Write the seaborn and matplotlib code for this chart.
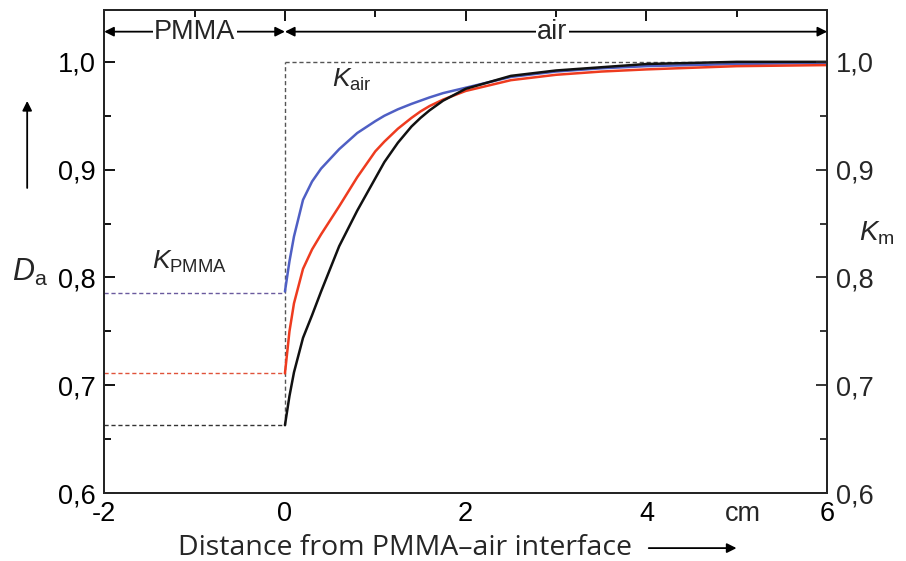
import numpy as np
import pandas as pd
import matplotlib
matplotlib.use("Agg")
import matplotlib.pyplot as plt
import seaborn as sns
from matplotlib.ticker import MultipleLocator

# distance from interface (cm) and the three D_a profiles
distance = [0.0, 0.05, 0.1, 0.2, 0.3, 0.4, 0.6, 0.8, 1.0, 1.1, 1.25, 1.4, 1.5,
            1.6, 1.75, 2.0, 2.5, 3.0, 3.5, 4.0, 5.0, 6.0]
d_blue = [0.787, 0.815, 0.838, 0.872, 0.889, 0.901, 0.919, 0.934, 0.945, 0.950,
          0.956, 0.961, 0.964, 0.967, 0.971, 0.976, 0.986, 0.991, 0.994, 0.996,
          0.998, 0.999]
d_red = [0.711, 0.750, 0.776, 0.808, 0.826, 0.840, 0.866, 0.893, 0.917, 0.926,
         0.938, 0.948, 0.954, 0.959, 0.965, 0.973, 0.983, 0.988, 0.991, 0.993,
         0.996, 0.997]
d_black = [0.663, 0.690, 0.712, 0.744, 0.765, 0.787, 0.829, 0.862, 0.892, 0.907,
           0.925, 0.940, 0.948, 0.955, 0.964, 0.975, 0.987, 0.992, 0.995, 0.998,
           1.000, 1.000]

# K values in PMMA (left of interface) and in air
k_pmma = [0.786, 0.711, 0.663]
k_air = 1.0
series_names = ["blue", "red", "black"]

x_ticks = [-2, 0, 2, 4, 6]
x_tick_labels = ["-2", "0", "2", "4", "6"]
y_ticks = [0.6, 0.7, 0.8, 0.9, 1.0]
y_tick_labels = ["0,6", "0,7", "0,8", "0,9", "1,0"]

sns.set_style("white")
plt.rcParams["font.family"] = ["Liberation Sans", "DejaVu Sans"]
plt.rcParams["mathtext.fontset"] = "custom"
plt.rcParams["mathtext.rm"] = "Liberation Sans"
plt.rcParams["mathtext.it"] = "Liberation Sans:italic"

df = pd.DataFrame({
    "distance": distance * 3,
    "D": d_blue + d_red + d_black,
    "series": [n for n in series_names for _ in distance],
})

line_colors = {"blue": "#4f5fc4", "red": "#ee3b1f", "black": "#111111"}
dash_colors = {"blue": "#6a5a9e", "red": "#e0523a", "black": "#333333"}

fig = plt.figure(figsize=(9.06, 5.61), dpi=100)
ax = fig.add_axes([0.115, 0.121, 0.798, 0.861])

# dashed reference levels
for name, k in zip(series_names, k_pmma):
    ax.plot([-2, 0], [k, k], ls=(0, (3, 2)), lw=1.0, color=dash_colors[name])
ax.plot([0, 0], [min(k_pmma), k_air], ls=(0, (3, 2)), lw=1.0, color="#555555")
ax.plot([0, 6], [k_air, k_air], ls=(0, (3, 2)), lw=1.0, color="#555555")

sns.lineplot(data=df, x="distance", y="D", hue="series", palette=line_colors,
             legend=False, lw=1.8, ax=ax)

ax.set_xlim(-2, 6)
ax.set_ylim(0.6, 1.048)
ax.set_xticks(x_ticks)
ax.set_xticklabels(x_tick_labels)
ax.set_yticks(y_ticks)
ax.set_yticklabels(y_tick_labels)
ax.xaxis.set_minor_locator(MultipleLocator(1))
ax.yaxis.set_minor_locator(MultipleLocator(0.05))
ax.set_xlabel("")
ax.set_ylabel("")

for sp in ax.spines.values():
    sp.set_linewidth(1.4)
    sp.set_color("black")

ax.tick_params(which="both", direction="in", top=True, right=False, width=1.3,
               labelsize=19.5, colors="black")
ax.tick_params(which="major", length=8, pad=6)
ax.tick_params(which="minor", length=5)

# right axis with the same scale (K_m)
ax2 = ax.twinx()
ax2.set_ylim(ax.get_ylim())
ax2.set_yticks(y_ticks)
ax2.set_yticklabels(y_tick_labels)
ax2.yaxis.set_minor_locator(MultipleLocator(0.05))
ax2.tick_params(which="both", direction="in", width=1.3, labelsize=19.5)
ax2.tick_params(which="major", length=8, pad=6)
ax2.tick_params(which="minor", length=5)
for sp in ax2.spines.values():
    sp.set_linewidth(1.4)

# region arrows at the top
arrow_y = 1.028
arr = dict(arrowstyle="<|-|>", color="black", lw=1.3, mutation_scale=14, shrinkA=0, shrinkB=0)
ax.annotate("", xy=(-2, arrow_y), xytext=(0, arrow_y), arrowprops=arr)
ax.annotate("", xy=(0, arrow_y), xytext=(6, arrow_y), arrowprops=arr)
box = dict(facecolor="white", edgecolor="none", pad=1)
ax.text(-1.0, arrow_y, "PMMA", ha="center", va="center", fontsize=19.5, bbox=box)
ax.text(2.96, arrow_y, "air", ha="center", va="center", fontsize=19.5, bbox=box)

ax.text(0.52, 0.983, r"$K_{\mathrm{air}}$", fontsize=19, ha="left", va="center")
ax.text(-1.47, 0.814, r"$K_{\mathrm{PMMA}}$", fontsize=19, ha="left", va="center")
ax.annotate("cm", xy=(5.07, 0), xycoords=("data", "axes fraction"),
            xytext=(0, -6), textcoords="offset points", ha="center", va="top", fontsize=19.5)

# axis names
fig.text(0.033, 0.515, r"$D_{\mathrm{a}}$", fontsize=22, ha="center", va="center")
fig.text(0.968, 0.585, r"$K_{\mathrm{m}}$", fontsize=20, ha="center", va="center")
fig.patches.append(matplotlib.patches.FancyArrowPatch(
    (0.030, 0.66), (0.030, 0.825), transform=fig.transFigure, arrowstyle="-|>",
    mutation_scale=14, lw=1.3, color="black"))

fig.text(0.197, 0.023, "Distance from PMMA\u2013air interface", fontsize=20.5,
         family=["Open Sans", "DejaVu Sans"], ha="left", va="center")
fig.patches.append(matplotlib.patches.FancyArrowPatch(
    (0.713, 0.023), (0.816, 0.023), transform=fig.transFigure, arrowstyle="-|>",
    mutation_scale=14, lw=1.3, color="black"))

fig.savefig("out.png", dpi=100)
